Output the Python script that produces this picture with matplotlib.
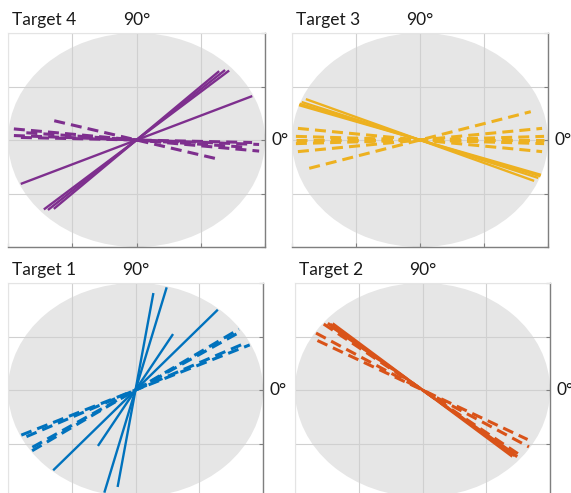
import numpy as np
import matplotlib
matplotlib.use('Agg')
import matplotlib.pyplot as plt
from matplotlib.patches import Circle

plt.rcParams['font.family'] = ['Lato', 'DejaVu Sans']

# orientation of each line (deg, in axis units) and its half length
t4_solid_ang = [42.0, 43.5, 45.0, 24.5]
t4_solid_len = [0.97, 0.95, 0.91, 0.99]
t4_dash_ang = [-15.7, -6.2, -4.5, -2.5, -1.5]
t4_dash_len = [0.665, 0.96, 0.86, 0.955, 0.90]

t3_solid_ang = [-23.2, -21.0, -19.8, -19.0]
t3_solid_len = [0.97, 0.99, 1.0, 1.0]
t3_dash_ang = [17.0, 6.5, 2.0, 0.0, -2.0, -6.5]
t3_dash_len = [0.905, 0.96, 0.97, 0.97, 0.97, 0.96]

t1_solid_ang = [81.2, 75.7, 60.6, 49.3]
t1_solid_len = [0.917, 0.99, 0.60, 0.99]
t1_dash_ang = [35.0, 33.5, 27.0, 25.2]
t1_dash_len = [0.99, 0.97, 0.96, 0.99]

t2_solid_ang = [-39.5, -40.5, -41.5]
t2_solid_len = [0.93, 0.95, 0.94]
t2_dash_ang = [-29.3, -32.5, -38.5, -40.0]
t2_dash_len = [0.945, 0.99, 0.99, 0.97]

W, H = 571, 493
fig = plt.figure(figsize=(W / 100, H / 100), dpi=100)


def px_axes(x0, y0, x1, y1):
    # axes from pixel box (top-left origin)
    return fig.add_axes([x0 / W, 1 - y1 / H, (x1 - x0) / W, (y1 - y0) / H])


def draw_panel(ax, title, color, s_ang, s_len, d_ang, d_len):
    ax.set_xlim(-1, 1)
    ax.set_ylim(-1, 1)
    ax.add_patch(Circle((0, 0), 1, facecolor='#e6e6e6', edgecolor='none', zorder=0))
    ax.set_xticks([-1, -0.5, 0, 0.5, 1])
    ax.set_yticks([-1, -0.5, 0, 0.5, 1])
    ax.grid(True, color='#d0d0d0', lw=0.8)
    ax.tick_params(direction='in', length=3, color='#7f7f7f',
                   labelbottom=False, labelleft=False,
                   left=False, right=True, top=False, bottom=True)
    for side in ['left', 'top']:
        ax.spines[side].set_color('#e4e4e4')
    for side in ['right', 'bottom']:
        ax.spines[side].set_color('#7f7f7f')
        ax.spines[side].set_linewidth(1.0)

    for a, r in zip(s_ang, s_len):
        t = np.deg2rad(a)
        ax.plot([-r * np.cos(t), r * np.cos(t)], [-r * np.sin(t), r * np.sin(t)],
                color=color, lw=1.7, solid_capstyle='butt')
    for a, r in zip(d_ang, d_len):
        t = np.deg2rad(a)
        ax.plot([-r * np.cos(t), r * np.cos(t)], [-r * np.sin(t), r * np.sin(t)],
                color=color, lw=2.2, dashes=(3.6, 2.0), dash_capstyle='butt')

    ax.annotate(title, xy=(0, 1), xycoords='axes fraction', xytext=(3, 6),
                textcoords='offset points', ha='left', va='baseline',
                fontsize=12.5, color='#1a1a1a')
    ax.annotate('90°', xy=(0.5, 1), xycoords='axes fraction', xytext=(0, 6),
                textcoords='offset points', ha='center', va='baseline',
                fontsize=12.5, color='#1a1a1a')
    ax.annotate('0°', xy=(1, 0.5), xycoords='axes fraction', xytext=(5, 0),
                textcoords='offset points', ha='left', va='center',
                fontsize=12.5, color='#1a1a1a', annotation_clip=False)


ax4 = px_axes(8, 33, 265, 247)
ax3 = px_axes(292, 33, 548, 247)
ax1 = px_axes(8, 283, 263, 497)
ax2 = px_axes(295, 283, 550, 497)

draw_panel(ax4, 'Target 4', '#7E2F8E', t4_solid_ang, t4_solid_len, t4_dash_ang, t4_dash_len)
draw_panel(ax3, 'Target 3', '#EDB120', t3_solid_ang, t3_solid_len, t3_dash_ang, t3_dash_len)
draw_panel(ax1, 'Target 1', '#0072BD', t1_solid_ang, t1_solid_len, t1_dash_ang, t1_dash_len)
draw_panel(ax2, 'Target 2', '#D95319', t2_solid_ang, t2_solid_len, t2_dash_ang, t2_dash_len)

fig.savefig('out.png', dpi=100)
